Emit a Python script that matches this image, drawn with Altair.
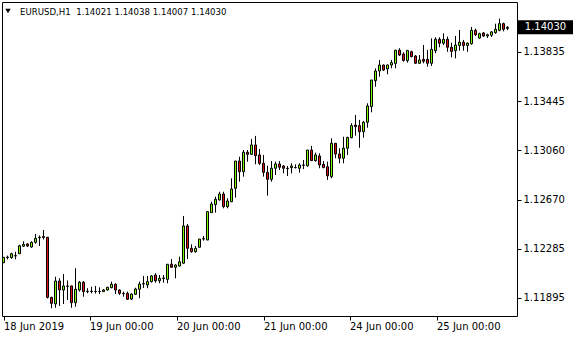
import altair as alt
import pandas as pd
import numpy as np

symbol_title = "EURUSD,H1\u00a0\u00a01.14021 1.14038 1.14007 1.14030"

opens = [1.12173, 1.12214, 1.12213, 1.12226, 1.12244, 1.12303, 1.12321, 1.12297, 1.12334, 1.12370,
         1.12372, 1.12374, 1.11900, 1.11848, 1.12029, 1.11958, 1.11990, 1.11990, 1.11858, 1.11958,
         1.12019, 1.11945, 1.11948, 1.11947, 1.11945, 1.11945, 1.11958, 1.11976, 1.12003, 1.11958,
         1.11932, 1.11932, 1.11887, 1.11924, 1.11964, 1.12005, 1.11998, 1.12024, 1.12076, 1.12031,
         1.12050, 1.12042, 1.12161, 1.12137, 1.12147, 1.12169, 1.12463, 1.12287, 1.12260, 1.12295,
         1.12360, 1.12352, 1.12568, 1.12631, 1.12668, 1.12715, 1.12615, 1.12654, 1.12760, 1.12975,
         1.12891, 1.13044, 1.13028, 1.13102, 1.13023, 1.12957, 1.12886, 1.12831, 1.12918, 1.12952,
         1.12936, 1.12918, 1.12923, 1.12923, 1.12918, 1.12944, 1.12938, 1.13062, 1.12978, 1.13015,
         1.12949, 1.12930, 1.12852, 1.13115, 1.13031, 1.12997, 1.13076, 1.13159, 1.13259, 1.13255,
         1.13206, 1.13281, 1.13404, 1.13609, 1.13685, 1.13732, 1.13701, 1.13732, 1.13744, 1.13849,
         1.13819, 1.13766, 1.13837, 1.13803, 1.13746, 1.13777, 1.13777, 1.13746, 1.13845, 1.13935,
         1.13904, 1.13935, 1.13872, 1.13845, 1.13886, 1.13912, 1.13886, 1.13900, 1.14006, 1.13945,
         1.13985, 1.13961, 1.13967, 1.13987, 1.14006, 1.14058, 1.14021]
highs = [1.12218, 1.12229, 1.12252, 1.12260, 1.12315, 1.12342, 1.12326, 1.12342, 1.12400, 1.12388,
         1.12431, 1.12376, 1.11905, 1.12063, 1.12050, 1.12084, 1.12033, 1.11992, 1.12129, 1.12029,
         1.12029, 1.11972, 1.11984, 1.11990, 1.11979, 1.11966, 1.11984, 1.12024, 1.12011, 1.11964,
         1.11945, 1.11945, 1.11932, 1.11976, 1.12024, 1.12069, 1.12069, 1.12076, 1.12090, 1.12076,
         1.12076, 1.12163, 1.12202, 1.12161, 1.12221, 1.12542, 1.12479, 1.12318, 1.12305, 1.12360,
         1.12384, 1.12577, 1.12654, 1.12694, 1.12733, 1.12733, 1.12681, 1.12839, 1.12975, 1.13009,
         1.13062, 1.13062, 1.13149, 1.13173, 1.13070, 1.13023, 1.12938, 1.12975, 1.12970, 1.12975,
         1.12944, 1.12936, 1.12957, 1.12949, 1.12957, 1.12983, 1.13062, 1.13094, 1.13041, 1.13036,
         1.12975, 1.12970, 1.13154, 1.13117, 1.13076, 1.13167, 1.13167, 1.13273, 1.13338, 1.13299,
         1.13291, 1.13430, 1.13614, 1.13706, 1.13772, 1.13736, 1.13736, 1.13772, 1.13851, 1.13864,
         1.13833, 1.13851, 1.13845, 1.13811, 1.13811, 1.13890, 1.13851, 1.13943, 1.13951, 1.13951,
         1.13982, 1.13956, 1.13908, 1.13961, 1.14008, 1.13930, 1.13911, 1.14032, 1.14019, 1.13987,
         1.13993, 1.13979, 1.14000, 1.14058, 1.14098, 1.14066, 1.14038]
lows = [1.12171, 1.12200, 1.12205, 1.12200, 1.12242, 1.12297, 1.12297, 1.12292, 1.12323, 1.12305,
        1.12356, 1.11891, 1.11814, 1.11818, 1.11832, 1.11848, 1.11879, 1.11818, 1.11826, 1.11945,
        1.11905, 1.11932, 1.11932, 1.11930, 1.11926, 1.11945, 1.11953, 1.11972, 1.11926, 1.11919,
        1.11905, 1.11879, 1.11879, 1.11919, 1.11893, 1.11974, 1.11972, 1.12016, 1.12016, 1.12011,
        1.12016, 1.12011, 1.12135, 1.12050, 1.12143, 1.12167, 1.12202, 1.12252, 1.12252, 1.12293,
        1.12347, 1.12352, 1.12568, 1.12568, 1.12664, 1.12602, 1.12602, 1.12652, 1.12686, 1.12812,
        1.12852, 1.12970, 1.13023, 1.12949, 1.12944, 1.12852, 1.12702, 1.12812, 1.12865, 1.12904,
        1.12878, 1.12857, 1.12878, 1.12916, 1.12883, 1.12912, 1.12930, 1.12975, 1.12970, 1.12918,
        1.12918, 1.12826, 1.12839, 1.12997, 1.12957, 1.12957, 1.13023, 1.13154, 1.13175, 1.13080,
        1.13159, 1.13238, 1.13359, 1.13561, 1.13640, 1.13685, 1.13659, 1.13706, 1.13706, 1.13803,
        1.13758, 1.13751, 1.13793, 1.13740, 1.13740, 1.13746, 1.13719, 1.13725, 1.13825, 1.13872,
        1.13890, 1.13837, 1.13793, 1.13785, 1.13845, 1.13845, 1.13837, 1.13893, 1.13961, 1.13940,
        1.13953, 1.13945, 1.13953, 1.13979, 1.13998, 1.13998, 1.14007]
closes = [1.12216, 1.12218, 1.12244, 1.12229, 1.12307, 1.12318, 1.12305, 1.12334, 1.12366, 1.12374,
          1.12380, 1.11900, 1.11853, 1.12029, 1.11958, 1.11990, 1.11987, 1.11858, 1.11964, 1.12019,
          1.11945, 1.11948, 1.11945, 1.11946, 1.11946, 1.11958, 1.11979, 1.12003, 1.11958, 1.11932,
          1.11929, 1.11885, 1.11926, 1.11966, 1.12005, 1.12008, 1.12024, 1.12069, 1.12031, 1.12050,
          1.12053, 1.12161, 1.12137, 1.12155, 1.12181, 1.12463, 1.12287, 1.12260, 1.12287, 1.12360,
          1.12363, 1.12576, 1.12636, 1.12673, 1.12715, 1.12615, 1.12660, 1.12754, 1.12975, 1.12891,
          1.13044, 1.13028, 1.13102, 1.13017, 1.12957, 1.12886, 1.12831, 1.12918, 1.12952, 1.12926,
          1.12918, 1.12915, 1.12936, 1.12924, 1.12944, 1.12941, 1.13062, 1.12978, 1.13023, 1.12944,
          1.12923, 1.12859, 1.13115, 1.13031, 1.12997, 1.13076, 1.13161, 1.13254, 1.13246, 1.13206,
          1.13281, 1.13409, 1.13614, 1.13685, 1.13732, 1.13693, 1.13732, 1.13751, 1.13849, 1.13811,
          1.13768, 1.13847, 1.13798, 1.13746, 1.13772, 1.13762, 1.13746, 1.13856, 1.13935, 1.13904,
          1.13935, 1.13872, 1.13839, 1.13889, 1.13912, 1.13886, 1.13904, 1.14006, 1.13971, 1.13979,
          1.13961, 1.13971, 1.13993, 1.14014, 1.14058, 1.14014, 1.14030]

x_tick_pos = [0, 21.5, 43.25, 65, 86.5, 108.25]
x_tick_labels = ["18 Jun 2019", "19 Jun 00:00", "20 Jun 00:00", "21 Jun 00:00",
                 "24 Jun 00:00", "25 Jun 00:00"]
y_ticks = [1.13835, 1.13445, 1.13060, 1.12670, 1.12285, 1.11895]

FONT = "DejaVu Sans"
BULL = "#7CFC00"
BEAR = "#DD1111"

df = pd.DataFrame({"bar": list(range(len(opens))), "open": opens, "high": highs,
                   "low": lows, "close": closes})
df["dir"] = np.where(df["close"] >= df["open"], "up", "down")

label_expr = "''"
for p, l in reversed(list(zip(x_tick_pos, x_tick_labels))):
    label_expr = f"datum.value == {p} ? '{l}' : ({label_expr})"

xscale = alt.Scale(domain=[-0.375, 128.375], nice=False, zero=False, padding=0)
yscale = alt.Scale(domain=[1.11753, 1.14229], nice=False, zero=False, padding=0)

xaxis = alt.Axis(values=x_tick_pos, labelExpr=label_expr, grid=False, domain=False,
                 tickSize=4, labelAlign="left", labelPadding=1, labelOverlap=False,
                 labelFlush=False, title=None)
yaxis = alt.Axis(values=y_ticks, format=".5f", orient="right", grid=False, domain=False,
                 tickSize=4, labelPadding=2, labelOverlap=False, labelFlush=False,
                 title=None)

base = alt.Chart(df)
wicks = base.mark_rule(color="black", strokeWidth=1).encode(
    x=alt.X("bar:Q", scale=xscale, axis=xaxis),
    y=alt.Y("low:Q", scale=yscale, axis=yaxis),
    y2="high:Q",
)
bodies = base.mark_bar(size=2, stroke="black", strokeWidth=1).encode(
    x=alt.X("bar:Q", scale=xscale),
    y=alt.Y("open:Q", scale=yscale),
    y2="close:Q",
    fill=alt.Fill("dir:N", scale=alt.Scale(domain=["up", "down"], range=[BULL, BEAR]),
                  legend=None),
)

last = df.tail(1)
tag = alt.Chart(last).mark_rule(color="black", strokeWidth=14).encode(
    x=alt.value(516), x2=alt.value(571), y=alt.Y("close:Q", scale=yscale)
)
tag_text = alt.Chart(last).mark_text(color="white", font=FONT, fontSize=10,
                                     align="center", baseline="middle").encode(
    x=alt.value(543.5), y=alt.Y("close:Q", scale=yscale),
    text=alt.Text("close:Q", format=".5f"),
)

title_df = pd.DataFrame({"t": [symbol_title]})
tri = alt.Chart(title_df).mark_point(shape="triangle-down", filled=True, color="black",
                                     size=30, opacity=1).encode(
    x=alt.value(6), y=alt.value(9)
)
title_text = alt.Chart(title_df).mark_text(font=FONT, fontSize=8.6, align="left",
                                           baseline="middle", color="black").encode(
    x=alt.value(18), y=alt.value(10), text="t:N"
)

chart = alt.layer(wicks, bodies, tag, tag_text, tri, title_text).properties(
    width=515, height=314,
    padding={"left": 2, "top": 2, "right": 63, "bottom": 24},
    autosize=alt.AutoSizeParams(type="none"),
    background="white",
).configure_view(stroke="black", strokeWidth=1).configure_axis(
    labelFont=FONT, labelFontSize=10, labelColor="black", tickColor="black", tickWidth=1
)

chart.save("out.html", embed_options={"renderer": "svg", "actions": False})
